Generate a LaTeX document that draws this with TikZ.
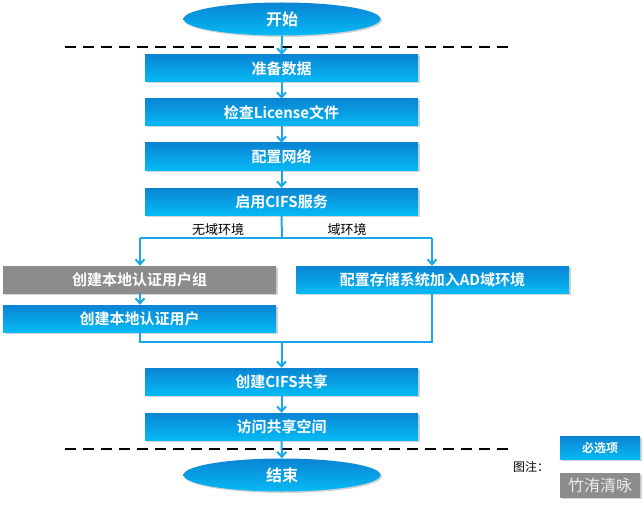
\documentclass[tikz,border=0pt]{standalone}
\usepackage{fontspec}
\setmainfont{Noto Sans CJK SC}
\newfontfamily\cjkb{Noto Sans CJK SC}[BoldFont={* Bold}]
\usetikzlibrary{arrows.meta,shadows,shapes.geometric}
\definecolor{btop}{HTML}{0A84D4}
\definecolor{bbot}{HTML}{05BAF5}
\definecolor{lineblue}{HTML}{19A9E8}
\definecolor{grayfill}{HTML}{8C8C8C}
\tikzset{
  x=1pt,y=-1pt,
  flowbox/.style={rectangle, minimum width=273pt, minimum height=27pt, inner sep=0pt,
    top color=btop, bottom color=bbot, draw=none, text=white,
    font=\cjkb\bfseries\fontsize{15}{17}\selectfont,
    drop shadow={shadow xshift=1.5pt, shadow yshift=-1.5pt, opacity=0.35}},
  graybox/.style={flowbox, top color=grayfill, bottom color=grayfill},
  termin/.style={ellipse, minimum width=197pt, minimum height=33pt, inner sep=0pt,
    top color=btop, bottom color=bbot, draw=none, text=white,
    font=\cjkb\bfseries\fontsize{16}{18}\selectfont,
    drop shadow={shadow xshift=1.5pt, shadow yshift=-1.5pt, opacity=0.35}},
  conn/.style={draw=lineblue, line width=2pt, -{Straight Barb[length=5pt,width=9pt,line width=2pt]}},
  plainconn/.style={draw=lineblue, line width=2pt},
  sepline/.style={draw=black, line width=1.6pt, dash pattern=on 11pt off 7pt},
  lbl/.style={font=\fontsize{13}{15}\selectfont, text=black}
}
\begin{document}
\begin{tikzpicture}
\useasboundingbox (0,0) rectangle (644,505);
\node[termin] (start) at (282,19) {开始};
\node[flowbox] (s1) at (281.5,68.5) {准备数据};
\node[flowbox] (s2) at (281.5,112.5) {检查License文件};
\node[flowbox] (s3) at (281.5,156.5) {配置网络};
\node[flowbox] (s4) at (281.5,201.5) {启用CIFS服务};
\node[graybox] (g1) at (139.5,279.5) {创建本地认证用户组};
\node[flowbox] (r1) at (432.5,279.5) {配置存储系统加入AD域环境};
\node[flowbox] (u1) at (139.5,318.5) {创建本地认证用户};
\node[flowbox] (s5) at (281.5,381.5) {创建CIFS共享};
\node[flowbox] (s6) at (281.5,426.5) {访问共享空间};
\node[termin] (end) at (282,475) {结束};

\coordinate (dl1) at (65,47);
\coordinate (dr1) at (512,47);
\coordinate (dl2) at (65,449);
\coordinate (dr2) at (512,449);
\draw[sepline] (dl1) -- (dr1);
\draw[sepline] (dl2) -- (dr2);

\draw[conn] (start) -- (s1);
\draw[conn] (s1) -- (s2);
\draw[conn] (s2) -- (s3);
\draw[conn] (s3) -- (s4);

\coordinate (bl) at (140,238);
\coordinate (br) at (432,238);
\coordinate (bm) at (282,238);
\draw[plainconn] (s4.south) -- (bm);
\draw[plainconn] (bl) -- (br);
\draw[conn] (bl) -- (g1.north -| bl);
\draw[conn] (br) -- (r1.north -| br);
\node[lbl] (lab1) at (218,230) {无域环境};
\node[lbl] (lab2) at (347,230) {域环境};

\draw[conn] (g1.south -| bl) -- (u1.north -| bl);

\coordinate (ml) at (140,342);
\coordinate (mr) at (432,342);
\draw[plainconn] (u1.south -| ml) -- (ml) -- (mr) -- (r1.south -| mr);
\draw[conn] (ml -| s5.north) -- (s5.north);
\draw[conn] (s5) -- (s6);
\draw[conn] (s6) -- (end);

\node[flowbox, minimum width=80pt, minimum height=23pt, font=\cjkb\bfseries\fontsize{12}{14}\selectfont] (leg1) at (600,448) {必选项};
\node[graybox, minimum width=80pt, minimum height=24pt, text=white!85!gray, font=\fontsize{16}{18}\selectfont] (leg2) at (600,485) {竹洧清咏};
\node[lbl, font=\fontsize{12}{14}\selectfont] (legt) at (531,467) {图注：};
\end{tikzpicture}
\end{document}
